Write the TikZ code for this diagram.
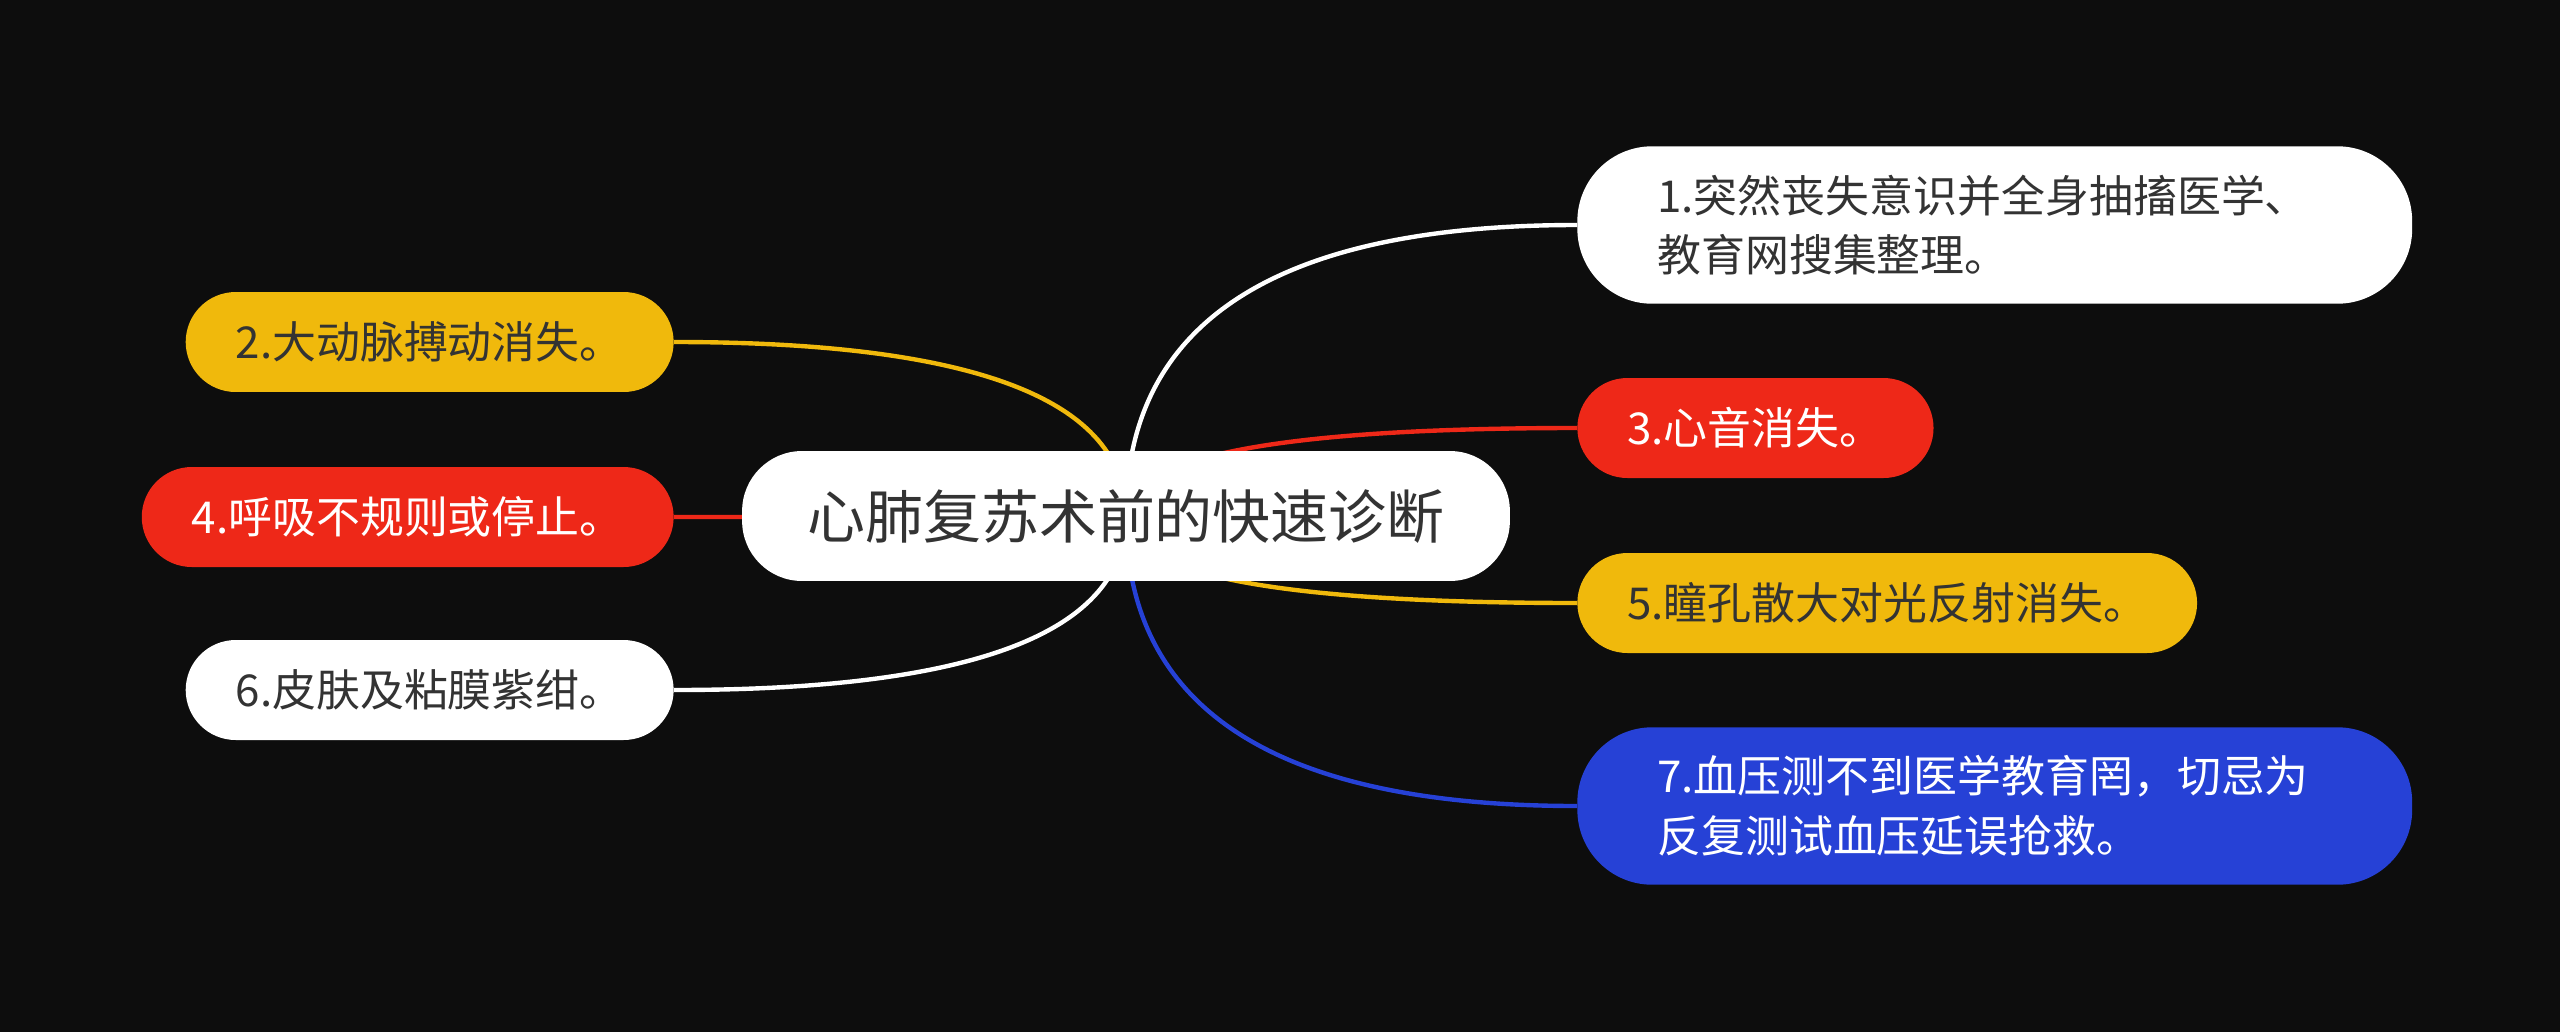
\documentclass[tikz,border=0pt]{standalone}
\usepackage{fontspec}
\setmainfont{Noto Sans CJK SC}
\usetikzlibrary{calc,backgrounds}
\definecolor{MapBlack}{RGB}{13,13,13}
\definecolor{MapText}{RGB}{51,51,51}
\definecolor{MapYellow}{RGB}{240,185,12}
\definecolor{MapRed}{RGB}{238,40,24}
\definecolor{MapBlue}{RGB}{38,65,214}
\tikzset{
  map/root/.style={
    fill=white,
    text=MapText,
    rounded corners=1.2cm,
    minimum height=2.6cm,
    inner xsep=1.3cm,
    font=\fontsize{33pt}{40pt}\selectfont
  },
  map/leaf/.style={
    rounded corners=1cm,
    minimum height=2cm,
    inner xsep=1cm,
    inner ysep=0pt,
    font=\fontsize{25pt}{34pt}\selectfont
  },
  map/wide/.style={
    map/leaf,
    rounded corners=1.5cm,
    minimum height=3.15cm,
    inner xsep=1.6cm,
    text width=13.5cm,
    align=left
  },
  map/white/.style={fill=white, text=MapText},
  map/yellow/.style={fill=MapYellow, text=MapText},
  map/red/.style={fill=MapRed, text=white},
  map/blue/.style={fill=MapBlue, text=white},
  map/link/.style={line width=2.5pt}
}
\begin{document}
\begin{tikzpicture}[x=0.02cm,y=-0.02cm]
  \useasboundingbox (0,0) rectangle (2560,1032);
  \node[map/root] (root) at (1126,516) {心肺复苏术前的快速诊断};
  \node[map/wide,map/white,anchor=west] (n1) at (1577,225) {1.突然丧失意识并全身抽搐医学、\\教育网搜集整理。};
  \node[map/leaf,map/yellow,anchor=east] (n2) at (674,342) {2.大动脉搏动消失。};
  \node[map/leaf,map/red,anchor=west] (n3) at (1577,428) {3.心音消失。};
  \node[map/leaf,map/red,anchor=east] (n4) at (674,517) {4.呼吸不规则或停止。};
  \node[map/leaf,map/yellow,anchor=west] (n5) at (1577,603) {5.瞳孔散大对光反射消失。};
  \node[map/leaf,map/white,anchor=east] (n6) at (674,690) {6.皮肤及粘膜紫绀。};
  \node[map/wide,map/blue,anchor=west] (n7) at (1577,806) {7.血压测不到医学教育罔，切忌为\\反复测试血压延误抢救。};
  \begin{scope}[on background layer]
    \fill[MapBlack] (0,0) rectangle (2560,1032);
    \foreach \n/\c in {n1.west/white,n3.west/MapRed,n5.west/MapYellow,n7.west/MapBlue,n2.east/MapYellow,n4.east/MapRed,n6.east/white} {
      \coordinate (k) at (root.center |- \n);
      \draw[map/link,draw=\c] (root.center) .. controls ($(root.center)!0.667!(k)$) and ($(\n)!0.667!(k)$) .. (\n);
    }
  \end{scope}
\end{tikzpicture}
\end{document}
